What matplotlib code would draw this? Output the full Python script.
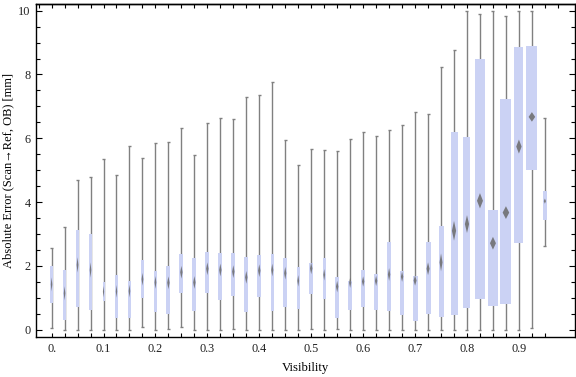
import numpy as np
import matplotlib
matplotlib.use('Agg')
import matplotlib.pyplot as plt
from matplotlib.patches import Rectangle, Polygon
import matplotlib.ticker as ticker

plt.rcParams['font.family'] = ['Liberation Serif', 'DejaVu Serif']

# Visibility bins and box-whisker statistics (mm)
visibility = [0.000, 0.025, 0.050, 0.075, 0.100, 0.125, 0.150, 0.175, 0.200, 0.225,
              0.250, 0.275, 0.300, 0.325, 0.350, 0.375, 0.400, 0.425, 0.450, 0.475,
              0.500, 0.525, 0.550, 0.575, 0.600, 0.625, 0.650, 0.675, 0.700, 0.725,
              0.750, 0.775, 0.800, 0.825, 0.850, 0.875, 0.900, 0.925, 0.950]
whisk_lo = [0.05, 0.00, 0.00, 0.00, 0.00, 0.00, 0.00, 0.08, 0.00, 0.02,
            0.07, 0.00, 0.00, 0.00, 0.03, 0.00, 0.00, 0.00, 0.00, 0.00,
            0.02, 0.00, 0.02, 0.00, 0.00, 0.00, 0.00, 0.00, 0.00, 0.00,
            0.00, 0.00, 0.00, 0.00, 0.00, 0.00, 0.00, 0.06, 2.62]
q1 = [0.84, 0.29, 0.72, 0.61, 0.90, 0.36, 0.38, 1.00, 0.55, 0.50,
      1.16, 0.60, 1.16, 0.94, 1.07, 0.56, 1.03, 0.57, 0.72, 0.65,
      1.13, 0.97, 0.38, 0.63, 0.72, 0.63, 0.58, 0.47, 0.28, 0.50,
      0.41, 0.47, 0.69, 0.97, 0.73, 0.79, 2.73, 5.01, 3.45]
median = [1.42, 1.14, 2.03, 1.87, 1.19, 1.20, 1.21, 1.58, 1.48, 1.47,
          1.80, 1.48, 1.91, 1.87, 1.82, 1.64, 1.85, 1.87, 1.77, 1.53,
          1.92, 1.72, 1.35, 1.47, 1.51, 1.53, 1.73, 1.66, 1.54, 1.91,
          2.11, 3.10, 3.31, 4.04, 2.71, 3.67, 5.74, 6.67, 4.03]
q3 = [1.99, 1.86, 3.12, 3.00, 1.49, 1.71, 1.53, 2.17, 1.83, 1.99,
      2.37, 2.24, 2.43, 2.40, 2.40, 2.28, 2.33, 2.36, 2.24, 1.97,
      2.09, 2.24, 1.65, 1.53, 1.87, 1.75, 2.75, 1.84, 1.68, 2.75,
      3.25, 6.19, 6.05, 8.49, 3.74, 7.23, 8.86, 8.89, 4.34]
whisk_hi = [2.55, 3.22, 4.69, 4.79, 5.35, 4.86, 5.76, 5.37, 5.84, 5.87,
            6.31, 5.47, 6.47, 6.63, 6.60, 7.28, 7.35, 7.77, 5.95, 5.16,
            5.65, 5.63, 5.59, 5.97, 6.19, 6.06, 6.25, 6.41, 6.81, 6.75,
            8.22, 8.76, 9.98, 9.89, 9.98, 9.82, 9.98, 9.98, 6.63]
# relative box widths (bin weight) and half-height of the median diamond
box_weight = [2.5, 2.7, 3.0, 2.7, 2.0, 2.3, 2.7, 3.0, 3.0, 4.0,
              4.0, 4.0, 4.0, 4.0, 4.0, 4.0, 4.0, 3.5, 3.7, 3.0,
              4.0, 3.0, 4.0, 3.7, 4.0, 4.0, 4.0, 4.0, 5.0, 5.0,
              5.0, 7.0, 7.0, 10.0, 10.0, 11.0, 9.0, 11.0, 3.7]
diamond_half = [0.22, 0.22, 0.24, 0.24, 0.18, 0.2, 0.2, 0.2, 0.2, 0.2,
                0.2, 0.2, 0.2, 0.2, 0.2, 0.2, 0.2, 0.2, 0.2, 0.18,
                0.18, 0.18, 0.18, 0.16, 0.16, 0.16, 0.2, 0.16, 0.16, 0.2,
                0.28, 0.31, 0.28, 0.24, 0.2, 0.2, 0.22, 0.15, 0.08]
top_ticks = [-0.025] + visibility + [0.975]

box_color = '#cbd2f4'
whisk_color = '#808080'
diam_color = '#6a6a6a'

fig = plt.figure(figsize=(5.76, 3.77), dpi=100)
ax = fig.add_axes([36 / 576, 40 / 377, 539 / 576, 332.7 / 377])

px = 0.025 / 13.0  # data units per pixel along x
cap = 1.5 * px
for x, lo, a, m, b, hi, w, dh in zip(visibility, whisk_lo, q1, median, q3, whisk_hi,
                                     box_weight, diamond_half):
    bw = w * px
    ax.vlines(x, lo, hi, color=whisk_color, lw=1.0, zorder=1)
    ax.hlines([lo, hi], x - cap, x + cap, color=whisk_color, lw=1.0, zorder=1)
    ax.add_patch(Rectangle((x - bw / 2, a), bw, b - a, facecolor=box_color,
                           edgecolor='none', zorder=2))
    dw = 0.3 * bw
    ax.add_patch(Polygon([(x - dw, m), (x, m + dh), (x + dw, m), (x, m - dh)],
                         closed=True, facecolor=diam_color, edgecolor='none',
                         alpha=0.85, zorder=3))

ax.set_xlim(-0.030, 1.008)
ax.set_ylim(-0.23, 10.2)

xt = [0.0, 0.1, 0.2, 0.3, 0.4, 0.5, 0.6, 0.7, 0.8, 0.9]
ax.set_xticks(xt)
ax.set_xticklabels(['0.', '0.1', '0.2', '0.3', '0.4', '0.5', '0.6', '0.7', '0.8', '0.9'])
ax.set_xticks(visibility, minor=True)
ax.set_yticks([0, 2, 4, 6, 8, 10])
ax.yaxis.set_minor_locator(ticker.MultipleLocator(0.5))

ax.tick_params(which='both', direction='in', right=True,
               labelright=False, colors='black', labelsize=8.8)
ax.tick_params(which='major', length=4.5, width=0.8, pad=4)
ax.tick_params(which='minor', length=3, width=0.8)
ax.tick_params(axis='x', which='major', length=3)
for lab in ax.get_xticklabels() + ax.get_yticklabels():
    lab.set_color('#222222')

# top frame ticks run one bin further on each side
sec = ax.secondary_xaxis('top')
sec.set_xticks(top_ticks)
sec.tick_params(direction='in', length=3, width=0.8, labeltop=False)
sec.spines['top'].set_linewidth(1.0)

for s in ax.spines.values():
    s.set_linewidth(1.0)

ax.set_xlabel('Visibility', fontsize=9.2, labelpad=5)
ax.set_ylabel('Absolute Error (Scan\u2192Ref, OB) [mm]', fontsize=9.0, labelpad=3)

plt.savefig('out.png', dpi=100)
